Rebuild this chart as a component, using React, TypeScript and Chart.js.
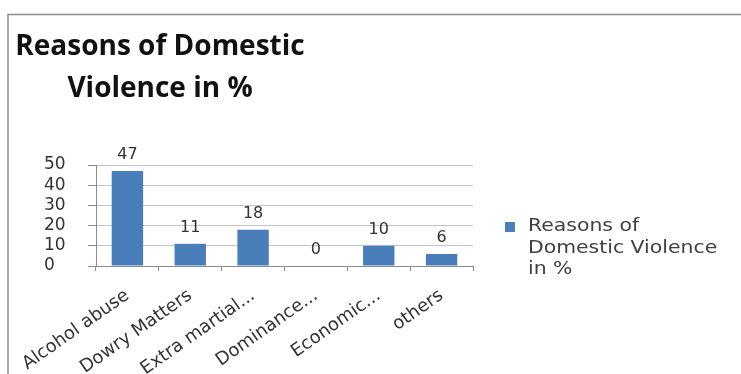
import React, { useEffect, useRef } from "react";
import { Chart, registerables } from "chart.js";

Chart.register(...registerables);

const categories = ["Alcohol abuse", "Dowry Matters", "Extra martial...", "Dominance...", "Economic...", "others"];
const values = [47, 11, 18, 0, 10, 6];
const seriesName = "Reasons of Domestic Violence in %";
const legendLines = ["Reasons of", "Domestic Violence", "in %"];
const titleLines = ["Reasons of Domestic", "Violence in %"];

const FONT = "'DejaVu Sans', sans-serif";
const TFONT = "'Open Sans', sans-serif";
const BAR = "#4a7ebb";

const decor = {
  id: "decor",
  beforeDraw(chart: any) {
    const ctx = chart.ctx;
    ctx.save();
    ctx.fillStyle = "#ffffff";
    ctx.fillRect(0, 0, chart.width, chart.height);
    ctx.strokeStyle = "#8c8c8c";
    ctx.lineWidth = 1.5;
    ctx.beginPath();
    ctx.moveTo(8, chart.height + 2);
    ctx.lineTo(8, 14.5);
    ctx.lineTo(chart.width + 2, 14.5);
    ctx.stroke();
    ctx.restore();
  },
  afterDraw(chart: any) {
    const ctx = chart.ctx;
    ctx.save();
    // title
    ctx.fillStyle = "#111111";
    ctx.font = `bold 28px ${TFONT}`;
    ctx.textAlign = "center";
    ctx.textBaseline = "alphabetic";
    ctx.fillText(titleLines[0], 160, 55);
    ctx.fillText(titleLines[1], 160, 97);
    // value labels
    const meta = chart.getDatasetMeta(0);
    ctx.font = `16px ${FONT}`;
    ctx.fillStyle = "#333333";
    ctx.textBaseline = "bottom";
    meta.data.forEach((el: any, i: number) => {
      ctx.fillText(String(values[i]), el.x, el.y - 8);
    });
    // legend
    const lx = 505;
    const ly = 227;
    ctx.fillStyle = BAR;
    ctx.fillRect(lx, ly - 5, 10, 10);
    ctx.fillStyle = "#404040";
    ctx.font = `17px ${FONT}`;
    ctx.textAlign = "left";
    ctx.textBaseline = "middle";
    const sx = 1.2;
    ctx.translate(lx + 23, 0);
    ctx.scale(sx, 1);
    legendLines.forEach((t, i) => ctx.fillText(t, 0, ly + i * 21.5));
    ctx.restore();
  },
};

export default function App() {
  const ref = useRef<HTMLCanvasElement>(null);
  useEffect(() => {
    const chart = new Chart(ref.current!, {
      type: "bar",
      data: {
        labels: categories,
        datasets: [
          {
            label: seriesName,
            data: values,
            backgroundColor: BAR,
            borderWidth: 0,
            categoryPercentage: 1,
            barPercentage: 0.5,
          },
        ],
      },
      options: {
        animation: false,
        responsive: false,
        maintainAspectRatio: false,
        layout: { padding: { left: 44, top: 165, right: 268, bottom: 0 } },
        plugins: { legend: { display: false }, title: { display: false }, tooltip: { enabled: false } },
        scales: {
          x: {
            grid: { display: true, drawOnChartArea: false, drawTicks: true, tickLength: 5, color: "#8c8c8c", offset: true },
            border: { color: "#8c8c8c" },
            ticks: {
              minRotation: 35,
              maxRotation: 35,
              autoSkip: false,
              color: "#333333",
              font: { family: FONT, size: 18 },
              padding: 14,
            },
            afterFit: (s: any) => {
              s.height = 108;
            },
          },
          y: {
            min: 0,
            max: 50,
            ticks: { stepSize: 10, autoSkip: false, color: "#333333", font: { family: FONT, size: 17 }, crossAlign: "far", padding: 4 },
            grid: { color: "#c4c4c4", tickLength: 8, tickColor: "#8c8c8c" },
            border: { color: "#8c8c8c" },
            afterFit: (s: any) => {
              s.width = 52;
            },
          },
        },
      },
      plugins: [decor],
    });
    return () => chart.destroy();
  }, []);
  return (
    <div style={{ position: "fixed", left: 0, top: 0, width: 741, height: 374 }}>
      <canvas ref={ref} width={741} height={374} style={{ width: 741, height: 374 }} />
    </div>
  );
}
